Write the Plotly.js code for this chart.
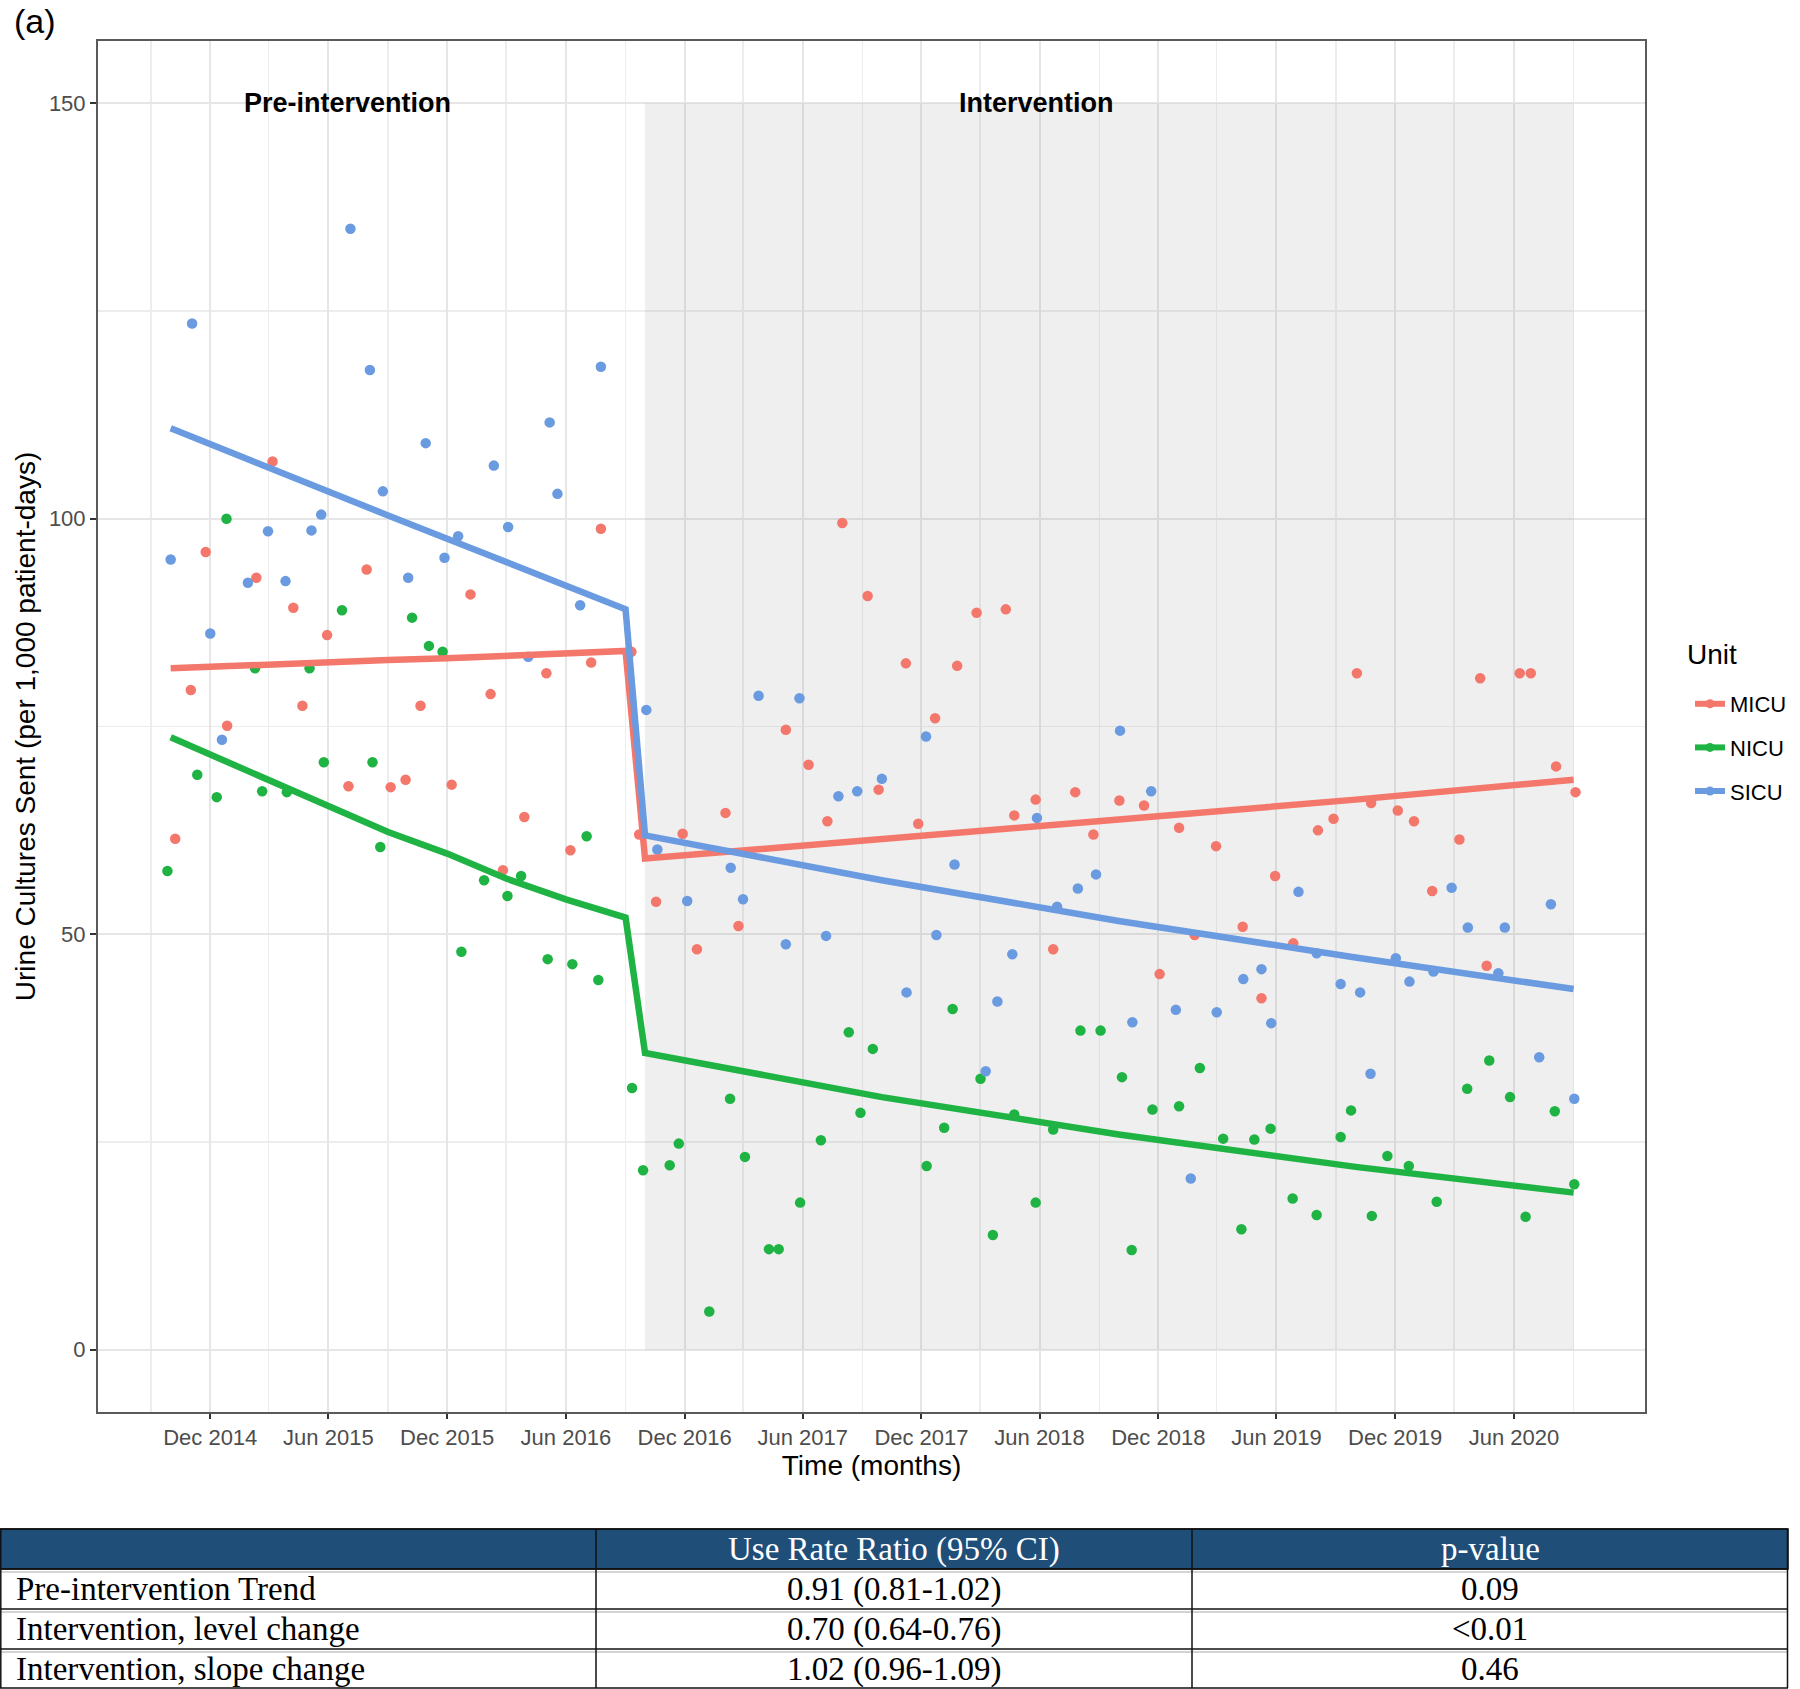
<!DOCTYPE html>
<html>
<head>
<meta charset="utf-8">
<script src="https://cdn.plot.ly/plotly-3.0.1.min.js"></script>
<style>html,body{margin:0;padding:0;background:#fff;} #chart{width:1800px;height:1689px;}</style>
</head>
<body>
<div id="chart"></div>
<script>
// ---------- data ----------
const unitNames = ['MICU', 'NICU', 'SICU'];
const legendTitle = 'Unit';

const micuDates = ['2014-10-08','2014-11-01','2014-11-24','2014-12-27','2015-02-10','2015-03-07','2015-04-08','2015-04-22','2015-05-30','2015-07-02','2015-07-30','2015-09-05','2015-09-28','2015-10-21','2015-12-08','2016-01-06','2016-02-06','2016-02-25','2016-03-29','2016-05-02','2016-06-08','2016-07-10','2016-07-25','2016-09-10','2016-09-22',
  '2016-10-18','2016-11-28','2016-12-20','2017-02-02','2017-02-22','2017-05-06','2017-06-10','2017-07-09','2017-08-01','2017-09-09','2017-09-26','2017-11-07','2017-11-26','2017-12-22','2018-01-25','2018-02-24','2018-04-10','2018-04-23','2018-05-26','2018-06-22','2018-07-26','2018-08-23','2018-10-02','2018-11-09','2018-12-03','2019-01-02','2019-01-26','2019-02-28','2019-04-10','2019-05-09','2019-05-30','2019-06-27','2019-08-04','2019-08-28','2019-10-03','2019-10-25','2019-12-05','2019-12-30','2020-01-27','2020-03-09','2020-04-10','2020-04-20','2020-06-10','2020-06-27','2020-08-05','2020-09-04'];
const micuValues = [61.5,79.4,96.0,75.1,92.9,106.9,89.3,77.5,86.0,67.8,93.9,67.7,68.6,77.5,68.0,90.9,78.9,57.7,64.1,81.4,60.1,82.7,98.8,84.0,62.0,
  53.9,62.1,48.2,64.6,51.0,74.6,70.4,63.6,99.5,90.7,67.4,82.6,63.3,76.0,82.3,88.7,89.1,64.3,66.2,48.2,67.1,62.0,66.1,65.5,45.2,62.8,49.9,60.6,50.9,42.3,57.0,48.9,62.5,63.9,81.4,65.8,64.9,63.6,55.2,61.4,80.8,46.2,81.4,81.4,70.2,67.1];

const nicuDates = ['2014-09-26','2014-11-11','2014-12-11','2014-12-26','2015-02-08','2015-02-19','2015-03-29','2015-05-03','2015-05-25','2015-06-22','2015-08-08','2015-08-20','2015-10-08','2015-11-03','2015-11-24','2015-12-23','2016-01-27','2016-03-03','2016-03-24','2016-05-04','2016-06-11','2016-07-03','2016-07-21','2016-09-11',
  '2016-09-28','2016-11-08','2016-11-22','2017-01-08','2017-02-09','2017-03-04','2017-04-10','2017-04-25','2017-05-28','2017-06-29','2017-08-11','2017-08-29','2017-09-17','2017-12-09','2018-01-05','2018-01-18','2018-03-02','2018-03-21','2018-04-23','2018-05-26','2018-06-22','2018-08-03','2018-09-03','2018-10-06','2018-10-21','2018-11-22','2019-01-02','2019-02-03','2019-03-11','2019-04-08','2019-04-28','2019-05-23','2019-06-26','2019-08-02','2019-09-08','2019-09-24','2019-10-26','2019-11-19','2019-12-22','2020-02-03','2020-03-21','2020-04-24','2020-05-26','2020-06-19','2020-08-03','2020-09-02'];
const nicuValues = [57.6,69.2,66.5,100.0,82.0,67.2,67.1,82.0,70.7,89.0,70.7,60.5,88.1,84.7,84.0,47.9,56.5,54.6,57.0,47.0,46.4,61.8,44.5,31.5,
  21.6,22.2,24.8,4.6,30.2,23.2,12.1,12.1,17.7,25.2,38.2,28.5,36.2,22.1,26.7,41.0,32.6,13.8,28.3,17.7,26.5,38.4,38.4,32.8,12.0,28.9,29.3,33.9,25.4,14.5,25.3,26.6,18.2,16.2,25.6,28.8,16.1,23.3,22.1,17.8,31.4,34.8,30.4,16.0,28.7,19.9];

const sicuDates = ['2014-10-01','2014-11-03','2014-12-01','2014-12-19','2015-01-28','2015-02-28','2015-03-27','2015-05-06','2015-05-21','2015-07-05','2015-08-04','2015-08-24','2015-10-02','2015-10-29','2015-11-27','2015-12-18','2016-02-11','2016-03-04','2016-04-04','2016-05-07','2016-05-19','2016-06-23','2016-07-25',
  '2016-10-03','2016-10-20','2016-12-05','2017-02-10','2017-03-01','2017-03-25','2017-05-06','2017-05-27','2017-07-07','2017-07-26','2017-08-24','2017-10-01','2017-11-08','2017-12-08','2017-12-24','2018-01-21','2018-03-10','2018-03-28','2018-04-20','2018-05-28','2018-06-28','2018-07-30','2018-08-27','2018-10-03','2018-10-22','2018-11-20','2018-12-28','2019-01-20','2019-03-01','2019-04-11','2019-05-09','2019-05-24','2019-07-05','2019-08-02','2019-09-08','2019-10-08','2019-10-24','2019-12-02','2019-12-23','2020-01-29','2020-02-26','2020-03-22','2020-05-08','2020-05-18','2020-07-10','2020-07-28','2020-09-02'];
const sicuValues = [95.1,123.5,86.2,73.4,92.3,98.5,92.5,98.6,100.5,134.9,117.9,103.3,92.9,109.1,95.3,97.9,106.4,99.0,83.4,111.6,103.0,89.6,118.3,
  77.0,60.2,54.0,58.0,54.2,78.7,48.8,78.4,49.8,66.6,67.2,68.7,43.0,73.8,49.9,58.4,33.5,41.9,47.6,64.0,53.3,55.5,57.2,74.5,39.4,67.2,40.9,20.6,40.6,44.6,45.8,39.3,55.1,47.7,44.0,43.0,33.2,47.1,44.3,45.5,55.6,50.8,45.3,50.8,35.2,53.6,30.2];

// fitted segmented-regression lines
const fitDates = ['2014-10-01','2015-03-01','2015-06-01','2015-09-01','2015-12-01','2016-03-01','2016-06-01','2016-09-01','2016-10-01','2017-10-01','2018-10-01','2019-10-01','2020-09-01'];
const micuFit = [82.0,82.5,82.7,83.0,83.2,83.5,83.8,84.1,59.1,61.4,63.8,66.2,68.6];
const nicuFit = [73.7,68.5,65.3,62.3,59.7,56.7,54.2,52.0,35.7,30.4,25.9,22.0,18.9];
const sicuFit = [110.9,106.1,103.3,100.4,97.6,94.8,91.9,89.1,61.9,56.5,51.6,47.2,43.4];

const interventionStart = '2016-10-01';
const interventionEnd = '2020-09-01';
const shadeBottom = 0, shadeTop = 150;

const periodLabels = ['Pre-intervention', 'Intervention'];
const periodLabelDates = ['2015-07-01', '2018-05-28'];
const periodLabelY = 150;

const majorTickDates = ['2014-12-01','2015-06-01','2015-12-01','2016-06-01','2016-12-01','2017-06-01','2017-12-01','2018-06-01','2018-12-01','2019-06-01','2019-12-01','2020-06-01'];
const minorTickDates = ['2014-09-01','2015-03-01','2015-09-01','2016-03-01','2016-09-01','2017-03-01','2017-09-01','2018-03-01','2018-09-01','2019-03-01','2019-09-01','2020-03-01','2020-09-01'];
const yTickValues = [0, 50, 100, 150];
const yMinorTickValues = [25, 75, 125];

const tableHeader = ['', 'Use Rate Ratio (95% CI)', 'p-value'];
const tableRowLabels = ['Pre-intervention Trend', 'Intervention, level change', 'Intervention, slope change'];
const tableRatios = ['0.91 (0.81-1.02)', '0.70 (0.64-0.76)', '1.02 (0.96-1.09)'];
const tablePValues = ['0.09', '<0.01', '0.46'];

// ---------- styling ----------
const W = 1800, H = 1689;
const colors = {MICU: '#F4776C', NICU: '#1FB344', SICU: '#6A9BE0'};
const sans = 'Liberation Sans, Arial, sans-serif';
const serif = 'Liberation Serif, Times New Roman, serif';
const px = v => v / W;
const py = v => 1 - v / H;

const series = {
  MICU: {d: micuDates, v: micuValues, fit: micuFit},
  NICU: {d: nicuDates, v: nicuValues, fit: nicuFit},
  SICU: {d: sicuDates, v: sicuValues, fit: sicuFit}
};

const traces = [];
unitNames.forEach(u => {
  traces.push({type: 'scatter', mode: 'markers', x: series[u].d, y: series[u].v,
    marker: {color: colors[u], size: 10.5}, showlegend: false, hoverinfo: 'x+y', name: u});
});
unitNames.forEach(u => {
  traces.push({type: 'scatter', mode: 'lines', x: fitDates, y: series[u].fit,
    line: {color: colors[u], width: 6.5}, showlegend: false, name: u});
});
unitNames.forEach(u => {
  traces.push({type: 'scatter', mode: 'lines+markers', x: [null], y: [null], name: u,
    legendgroup: u, line: {color: colors[u], width: 6}, marker: {color: colors[u], size: 9}, showlegend: true});
});

// table geometry (pixels)
const tTop = 1529, rowH = 40;
const colX = [0, 596, 1192, 1788];
const shapes = [
  {type: 'rect', xref: 'x', yref: 'y', x0: interventionStart, x1: interventionEnd, y0: shadeBottom, y1: shadeTop,
   fillcolor: 'rgba(120,120,120,0.12)', line: {width: 0}, layer: 'between'},
  {type: 'rect', xref: 'paper', yref: 'paper', x0: px(colX[0]), x1: px(colX[3]), y0: py(tTop + rowH), y1: py(tTop),
   fillcolor: '#1F4E79', line: {color: '#111', width: 1.5}}
];
for (let r = 0; r <= 4; r++) {
  const yy = tTop + r * rowH - (r === 4 ? 1 : 0);
  shapes.push({type: 'line', xref: 'paper', yref: 'paper', x0: px(colX[0]), x1: px(colX[3]), y0: py(yy), y1: py(yy),
    line: {color: '#111', width: 1.5}});
  if (r > 0 && r < 4) shapes.push({type: 'line', xref: 'paper', yref: 'paper', x0: px(colX[0]), x1: px(colX[3]), y0: py(yy + 3), y1: py(yy + 3),
    line: {color: '#aaa', width: 1.2}});
}
colX.forEach((cx, i) => {
  const xx = i === 0 ? 0.8 : (i === 3 ? cx - 0.5 : cx);
  shapes.push({type: 'line', xref: 'paper', yref: 'paper', x0: px(xx), x1: px(xx), y0: py(tTop), y1: py(H - 1),
    line: {color: '#111', width: 1.5}});
});

const annotations = [
  {text: '(a)', xref: 'paper', yref: 'paper', x: px(12), y: 1, xanchor: 'left', yanchor: 'top', showarrow: false,
   font: {family: sans, size: 34, color: '#000'}},
  {text: legendTitle, xref: 'paper', yref: 'paper', x: px(1685), y: py(654), xanchor: 'left', yanchor: 'middle', showarrow: false,
   font: {family: sans, size: 28, color: '#000'}}
];
periodLabels.forEach((t, i) => {
  annotations.push({text: '<b>' + t + '</b>', xref: 'x', yref: 'y', x: periodLabelDates[i], y: periodLabelY,
    showarrow: false, xanchor: 'center', yanchor: 'middle', font: {family: sans, size: 27, color: '#000'}});
});
tableHeader.forEach((t, c) => {
  if (!t) return;
  annotations.push({text: t, xref: 'paper', yref: 'paper', x: px((colX[c] + colX[c + 1]) / 2), y: py(tTop + rowH / 2),
    showarrow: false, xanchor: 'center', yanchor: 'middle', font: {family: serif, size: 33, color: '#fff'}});
});
tableRowLabels.forEach((t, r) => {
  const yc = py(tTop + rowH * (r + 1) + rowH / 2);
  annotations.push({text: t, xref: 'paper', yref: 'paper', x: px(14), y: yc, showarrow: false, xanchor: 'left', yanchor: 'middle',
    font: {family: serif, size: 33, color: '#000'}});
  annotations.push({text: tableRatios[r], xref: 'paper', yref: 'paper', x: px((colX[1] + colX[2]) / 2), y: yc, showarrow: false,
    xanchor: 'center', yanchor: 'middle', font: {family: serif, size: 33, color: '#000'}});
  annotations.push({text: tablePValues[r], xref: 'paper', yref: 'paper', x: px((colX[2] + colX[3]) / 2), y: yc, showarrow: false,
    xanchor: 'center', yanchor: 'middle', font: {family: serif, size: 33, color: '#000'}});
});

const layout = {
  width: W, height: H,
  margin: {l: 0, r: 0, t: 0, b: 0},
  paper_bgcolor: '#fff', plot_bgcolor: '#fff',
  font: {family: sans, color: '#000'},
  xaxis: {
    domain: [px(98), px(1645)], type: 'date', range: ['2014-06-11', '2020-12-20'],
    tickmode: 'array', tickvals: majorTickDates, tickformat: '%b %Y',
    tickfont: {family: sans, size: 22, color: '#4D4D4D'},
    ticks: 'outside', ticklen: 5, tickwidth: 2, tickcolor: '#333',
    showgrid: true, gridcolor: '#E6E6E6', gridwidth: 2,
    minor: {tickmode: 'array', tickvals: minorTickDates, showgrid: true, gridcolor: '#EDEDED', gridwidth: 1.5, ticks: ''},
    showline: true, mirror: true, linecolor: '#5a5a5a', linewidth: 2, zeroline: false,
    title: {text: 'Time (months)', font: {family: sans, size: 28, color: '#000'}, standoff: 6}
  },
  yaxis: {
    domain: [py(1412), py(41)], range: [-7.5, 157.5],
    tickmode: 'array', tickvals: yTickValues,
    tickfont: {family: sans, size: 22, color: '#4D4D4D'},
    ticks: 'outside', ticklen: 6, tickwidth: 2, tickcolor: '#333',
    showgrid: true, gridcolor: '#E6E6E6', gridwidth: 2,
    minor: {tickmode: 'array', tickvals: yMinorTickValues, showgrid: true, gridcolor: '#EDEDED', gridwidth: 1.5, ticks: ''},
    showline: true, mirror: true, linecolor: '#5a5a5a', linewidth: 2, zeroline: false,
    title: {text: 'Urine Cultures Sent (per 1,000 patient-days)', font: {family: sans, size: 28, color: '#000'}, standoff: 5}
  },
  legend: {
    x: px(1690), xanchor: 'left', y: py(683), yanchor: 'top',
    font: {family: sans, size: 22, color: '#000'},
    bgcolor: 'rgba(0,0,0,0)', traceorder: 'grouped', tracegroupgap: 12
  },
  shapes: shapes,
  annotations: annotations,
  showlegend: true
};

Plotly.newPlot('chart', traces, layout, {staticPlot: true, displayModeBar: false});
</script>
</body>
</html>
